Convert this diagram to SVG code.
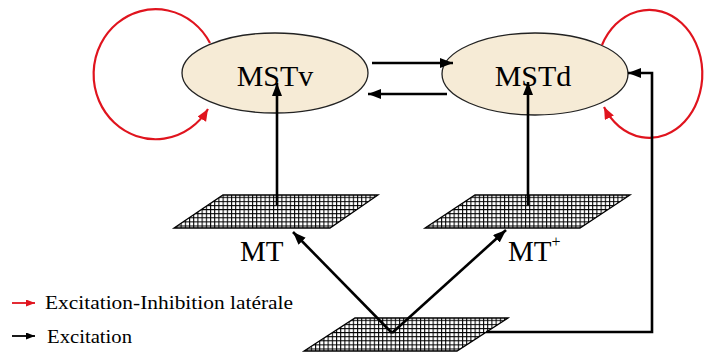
<svg xmlns="http://www.w3.org/2000/svg" width="705" height="352" viewBox="0 0 705 352">
<style>
.lbl{font-family:"Liberation Serif","Times New Roman",serif;fill:#000}
.node{fill:#F6EBD6;stroke:#222;stroke-width:1.3}
.plane{fill:url(#grid);stroke:#000;stroke-width:1.3}
.conn{fill:none;stroke:#000;stroke-width:2.6}
.red{fill:none;stroke:#E0141E;stroke-width:2.2}
</style>
<defs>
<pattern id="grid" patternUnits="userSpaceOnUse" width="4.2" height="4.1">
<rect width="4.2" height="4.1" fill="#fff"/>
<path d="M0,0.5 H4.2 M0.5,0 V4.1" stroke="#000" stroke-width="1.1"/>
</pattern>
<marker id="ab" markerUnits="userSpaceOnUse" markerWidth="14" markerHeight="12" refX="13" refY="5" orient="auto">
<path d="M0,0 L13,5 L0,10 z" fill="#000"/>
</marker>
<marker id="ar" markerUnits="userSpaceOnUse" markerWidth="14" markerHeight="12" refX="12" refY="5" orient="auto">
<path d="M0,0 L12,5 L0,10 z" fill="#E0141E"/>
</marker>
<marker id="abs" markerUnits="userSpaceOnUse" markerWidth="10" markerHeight="8" refX="9" refY="3.5" orient="auto">
<path d="M0,0 L9,3.5 L0,7 z" fill="#000"/>
</marker>
<marker id="ars" markerUnits="userSpaceOnUse" markerWidth="10" markerHeight="8" refX="9" refY="3.5" orient="auto">
<path d="M0,0 L9,3.5 L0,7 z" fill="#E0141E"/>
</marker>
</defs>
<rect width="705" height="352" fill="#fff"/>

<g id="MSTv">
<ellipse class="node" cx="275" cy="73" rx="93" ry="40"/>
<text class="lbl" x="275" y="86" font-size="30" text-anchor="middle">MSTv</text>
</g>
<g id="MSTd">
<ellipse class="node" cx="535" cy="74" rx="93" ry="41"/>
<text class="lbl" x="533" y="86" font-size="30" text-anchor="middle">MSTd</text>
</g>
<g id="MT-minus">
<polygon class="plane" points="223,195 378,195 330,228 174,228"/>
<text class="lbl" x="240" y="261" font-size="29">MT</text>
</g>
<g id="MT-plus">
<polygon class="plane" points="475,195 630,195 580,228 425,228"/>
<text class="lbl" x="508" y="261" font-size="29">MT<tspan font-size="16" dy="-14">+</tspan></text>
</g>
<g id="input">
<polygon class="plane" points="355,318 508,318 457,351 304,351"/>
</g>

<g id="connectors">
<path class="red" d="M210,43 A62 65 0 1 0 208,109" marker-end="url(#ar)"/>
<path class="red" d="M602,45 A53 64 0 1 1 604,107" marker-end="url(#ar)"/>
<path class="conn" d="M372,63 H453" marker-end="url(#ab)"/>
<path class="conn" d="M447,94 H368" marker-end="url(#ab)"/>
<path class="conn" d="M277,205 V83" marker-end="url(#ab)"/>
<path class="conn" d="M528,205 V82" marker-end="url(#ab)"/>
<path class="conn" d="M392,333 L293,232" marker-end="url(#ab)"/>
<path class="conn" d="M392,333 L506,230" marker-end="url(#ab)"/>
<path class="conn" d="M486,332 H652 V73 H628" marker-end="url(#ab)"/>
</g>

<g id="legend">
<path d="M12,303 H35" stroke="#E0141E" stroke-width="1.8" marker-end="url(#ars)"/>
<text class="lbl" x="45" y="309" font-size="18" textLength="248" lengthAdjust="spacingAndGlyphs">Excitation-Inhibition latérale</text>
<path d="M12,336 H35" stroke="#000" stroke-width="1.8" marker-end="url(#abs)"/>
<text class="lbl" x="47" y="343" font-size="18" textLength="85" lengthAdjust="spacingAndGlyphs">Excitation</text>
</g>
</svg>
